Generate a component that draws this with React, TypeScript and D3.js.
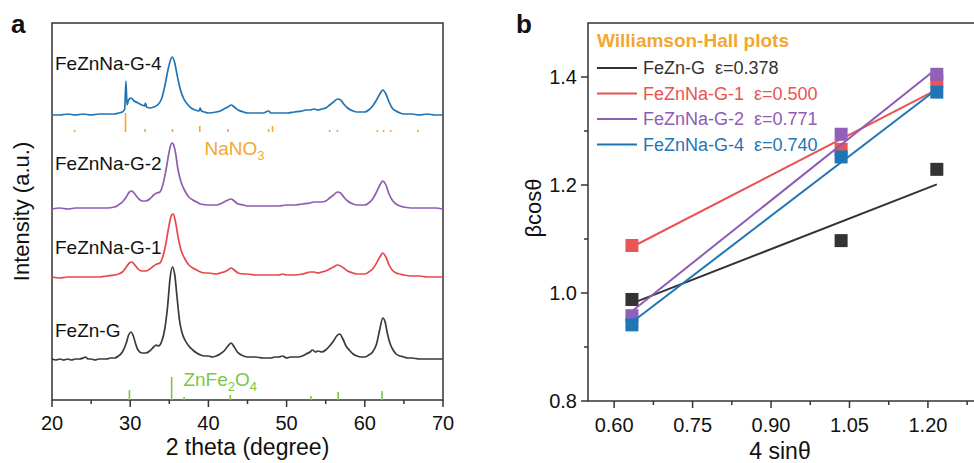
import React, { useEffect } from "react";
import * as d3 from "d3";

// ---------- XRD patterns (2θ in degrees, intensity above each trace's baseline) ----------
const fezngXrd: [number, number][] = [
  [20, 1], [20.5, 0], [21, 1], [21.5, 0], [22, 1], [22.5, 0], [23, 1], [23.5, 1], [24, 2], [24.3, 3], [24.6, 1],
  [25, 1], [25.5, 0], [26, 1], [26.5, 1], [27, 1], [27.5, 2], [28, 2], [28.5, 4], [29, 8], [29.5, 17], [29.8, 25],
  [30.1, 28], [30.4, 24], [30.7, 16], [31, 10], [31.5, 7], [32, 7], [32.5, 9], [33, 13], [33.3, 15], [33.6, 14],
  [34, 18], [34.4, 30], [34.8, 55], [35.1, 82], [35.4, 93], [35.7, 85], [36, 62], [36.3, 40], [36.6, 28], [37, 20],
  [37.5, 14], [38, 10], [38.5, 7], [39, 5], [39.5, 4], [40, 4], [40.5, 3], [41, 4], [41.5, 6], [42, 9], [42.5, 14],
  [42.9, 17], [43.3, 13], [43.7, 8], [44, 6], [44.5, 4], [45, 3], [46, 3], [47, 2], [48, 2], [48.5, 3], [49, 3],
  [49.5, 4], [50, 2], [50.5, 3], [51, 3], [51.5, 3], [52, 4], [52.5, 6], [53, 8], [53.3, 10], [53.7, 8], [54, 9],
  [54.5, 8], [55, 10], [55.5, 14], [56, 19], [56.4, 24], [56.8, 26], [57.2, 21], [57.6, 14], [58, 10], [58.5, 6],
  [59, 4], [59.5, 3], [60, 3], [60.5, 5], [61, 8], [61.5, 16], [61.9, 30], [62.3, 42], [62.6, 38], [62.9, 26],
  [63.3, 15], [63.7, 9], [64, 6], [64.5, 4], [65, 3], [65.5, 2], [66, 2], [67, 1], [68, 1], [69, 1], [70, 1],
];

const na1Xrd: [number, number][] = [
  [20, 1], [21, 0], [22, 1], [23, 1], [24, 1], [25, 1], [26, 1], [27, 2], [28, 3], [28.5, 4], [29, 6], [29.5, 11],
  [29.9, 15], [30.2, 16], [30.6, 13], [31, 9], [31.5, 7], [32, 7], [32.5, 9], [33, 12], [33.4, 14], [33.8, 15],
  [34.2, 22], [34.6, 36], [35, 54], [35.3, 63], [35.5, 64], [35.8, 56], [36.1, 42], [36.5, 28], [37, 19], [37.5, 13],
  [38, 10], [38.5, 8], [39, 6], [39.5, 5], [40, 5], [41, 4], [41.5, 5], [42, 6], [42.5, 8], [42.9, 10], [43.3, 8],
  [43.8, 5], [44.5, 4], [45, 4], [46, 3], [47, 3], [48, 3], [49, 3], [49.5, 4], [50, 3], [51, 3], [52, 4], [52.5, 5],
  [53, 6], [53.5, 6], [54, 5], [54.5, 6], [55, 7], [55.5, 9], [56, 11], [56.5, 13], [56.9, 12], [57.3, 10],
  [57.8, 7], [58.5, 5], [59, 4], [60, 4], [60.5, 6], [61, 9], [61.5, 15], [62, 22], [62.3, 25], [62.7, 21],
  [63.1, 13], [63.5, 8], [64, 5], [64.5, 4], [65, 3], [66, 2], [67, 2], [68, 1], [69, 1], [70, 1],
];

const na2Xrd: [number, number][] = [
  [20, 0], [21, 1], [22, 0], [23, 1], [24, 1], [25, 1], [26, 1], [27, 1], [28, 2], [28.5, 4], [29, 7], [29.5, 12],
  [29.9, 17], [30.2, 18], [30.6, 15], [31, 11], [31.5, 8], [32, 8], [32.5, 10], [33, 14], [33.4, 16], [33.8, 17],
  [34.2, 25], [34.6, 40], [35, 58], [35.3, 66], [35.5, 65], [35.8, 56], [36.1, 40], [36.5, 27], [37, 18], [37.5, 12],
  [38, 9], [38.5, 7], [39, 5], [40, 4], [41, 4], [41.5, 5], [42, 7], [42.5, 9], [42.9, 10], [43.3, 8], [43.8, 5],
  [44.5, 4], [45, 3], [46, 3], [47, 3], [48, 3], [49, 3], [50, 4], [51, 4], [52, 5], [53, 6], [53.5, 7], [54, 7],
  [54.5, 7], [55, 8], [55.5, 11], [56, 14], [56.5, 17], [56.9, 16], [57.3, 12], [57.8, 8], [58.5, 5], [59, 4],
  [60, 4], [60.5, 6], [61, 10], [61.5, 17], [62, 25], [62.3, 28], [62.7, 24], [63.1, 15], [63.5, 9], [64, 5],
  [64.5, 3], [65, 2], [66, 1], [67, 1], [68, 1], [69, 1], [70, 0],
];

const na4Xrd: [number, number][] = [
  [20, 0], [21, 0], [22, 1], [23, 0], [24, 1], [25, 0], [26, 1], [27, 1], [28, 1], [28.5, 2], [29, 3], [29.3, 6],
  [29.45, 34], [29.6, 10], [29.8, 15], [30.1, 17], [30.5, 14], [31, 12], [31.5, 10], [31.85, 9], [31.95, 12],
  [32.1, 8], [32.5, 7], [33, 8], [33.5, 10], [34, 16], [34.4, 28], [34.8, 44], [35.2, 56], [35.4, 58], [35.7, 52],
  [36, 40], [36.4, 26], [36.8, 17], [37.3, 11], [37.8, 7], [38.3, 5], [38.8, 4], [38.95, 7], [39.1, 4], [39.5, 3],
  [40, 2], [41, 3], [41.5, 4], [42, 6], [42.5, 8], [42.9, 10], [43.3, 8], [43.8, 5], [44.5, 3], [45, 2], [46, 2],
  [47, 2], [47.7, 4], [48, 2], [49, 2], [50, 2], [51, 3], [52, 4], [52.5, 5], [53, 5], [53.5, 6], [54, 5], [54.5, 6],
  [55, 7], [55.5, 10], [56, 13], [56.5, 16], [56.9, 15], [57.3, 11], [57.8, 7], [58.5, 4], [59, 3], [60, 3],
  [60.5, 5], [61, 9], [61.5, 15], [62, 22], [62.3, 25], [62.7, 21], [63.1, 13], [63.5, 7], [64, 4], [64.5, 2],
  [65, 1], [66, 1], [67, 0], [68, 1], [69, 0], [70, 0],
];

// stacking offsets of the four traces
const traceNames = ["FeZn-G", "FeZnNa-G-1", "FeZnNa-G-2", "FeZnNa-G-4"];
const traceOffsets = [40, 122, 191, 285];
const traceColors = ["#3a3a3a", "#e8484c", "#8e5cb5", "#2074b4"];
const traceLabelY = [63, 146, 230, 330];

// reference patterns: [2θ, relative line height]
const znFe2O4Ref: [number, number][] = [
  [29.9, 10], [35.3, 23], [36.9, 3], [42.8, 5], [53.1, 4], [56.6, 8], [62.2, 9],
];
const nano3Ref: [number, number][] = [
  [22.9, 2], [29.4, 19], [31.9, 3], [35.4, 3], [38.9, 6], [42.5, 3], [47.7, 3], [48.2, 6],
  [55.5, 2], [56.5, 2], [61.6, 2], [62.4, 2], [63.3, 2], [66.8, 2],
];
const nano3Base = 268;

const xTicksA = [20, 30, 40, 50, 60, 70];

// ---------- Williamson-Hall data ----------
const fourSinTheta = [0.634, 1.034, 1.217];
const whNames = ["FeZn-G", "FeZnNa-G-1", "FeZnNa-G-2", "FeZnNa-G-4"];
const whBetaCos = [
  [0.988, 1.097, 1.229],
  [1.088, 1.266, 1.393],
  [0.958, 1.294, 1.405],
  [0.941, 1.252, 1.372],
];
const whStrain = [0.378, 0.5, 0.771, 0.74];
const whLineColors = ["#333333", "#ea5254", "#8e5cb5", "#1f76b5"];
const whMarkColors = ["#333333", "#ea5558", "#9161b9", "#1f76b5"];
const xTicksB = [0.6, 0.75, 0.9, 1.05, 1.2];
const yTicksB = [0.8, 1.0, 1.2, 1.4];

const FONT = "'Liberation Sans', Arial, Helvetica, sans-serif";

export default function App() {
  useEffect(() => {
    document.body.style.margin = "0";
  }, []);

  // panel a scales
  const xA = d3.scaleLinear().domain([20, 70]).range([52, 443]);
  const yA = d3.scaleLinear().domain([0, 377]).range([400, 23]);
  const xrdSets = [fezngXrd, na1Xrd, na2Xrd, na4Xrd];

  // panel b scales
  const xB = d3.scaleLinear().domain([0.55, 1.29]).range([588, 975]);
  const yB = d3.scaleLinear().domain([0.8, 1.5]).range([401, 23]);

  const minorA = d3.range(25, 70, 10);
  const minorXB = d3.range(0.675, 1.29, 0.15);
  const minorYB = [0.9, 1.1, 1.3];
  const mean = (a: number[]) => d3.mean(a) as number;

  return (
    <svg width={974} height={463} style={{ display: "block", fontFamily: FONT }}>
      <rect width={974} height={463} fill="#ffffff" />

      {/* ===== panel a ===== */}
      <text x={11} y={33} fontSize={26} fontWeight="bold" fill="#111">a</text>
      <rect x={xA(20)} y={yA(377)} width={xA(70) - xA(20)} height={yA(0) - yA(377)}
        fill="none" stroke="#333" strokeWidth={1.5} />
      {xTicksA.map((t) => (
        <g key={"xa" + t}>
          <line x1={xA(t)} x2={xA(t)} y1={yA(0)} y2={yA(0) + 7} stroke="#333" strokeWidth={1.5} />
          <text x={xA(t)} y={430} fontSize={20} textAnchor="middle" fill="#111">{t}</text>
        </g>
      ))}
      {minorA.map((t) => (
        <line key={"xam" + t} x1={xA(t)} x2={xA(t)} y1={yA(0)} y2={yA(0) + 4} stroke="#333" strokeWidth={1.5} />
      ))}
      <text x={xA(45)} y={455} fontSize={23} textAnchor="middle" fill="#111">2 theta (degree)</text>
      <text transform={`translate(29,${(yA(0) + yA(377)) / 2}) rotate(-90)`} fontSize={22}
        textAnchor="middle" fill="#111">Intensity (a.u.)</text>

      {/* ZnFe2O4 reference lines */}
      {znFe2O4Ref.map(([p, h]) => (
        <line key={"zf" + p} x1={xA(p)} x2={xA(p)} y1={yA(0)} y2={yA(h)} stroke="#7cc644" strokeWidth={1.6} />
      ))}
      <text x={xA(36.8)} y={386} fontSize={19} fill="#7cc644">
        ZnFe<tspan fontSize={13} dy={5}>2</tspan><tspan dy={-5}>O</tspan><tspan fontSize={13} dy={5}>4</tspan>
      </text>

      {/* NaNO3 reference lines */}
      {nano3Ref.map(([p, h]) => (
        <line key={"nn" + p} x1={xA(p)} x2={xA(p)} y1={yA(nano3Base)} y2={yA(nano3Base + h)}
          stroke="#f3a731" strokeWidth={1.6} />
      ))}
      <text x={xA(39.5)} y={155} fontSize={19} fill="#f3a731">
        NaNO<tspan fontSize={13} dy={5}>3</tspan>
      </text>

      {/* XRD traces */}
      {xrdSets.map((set, i) => {
        const line = d3
          .line<[number, number]>()
          .x((d) => xA(d[0]))
          .y((d) => yA(d[1] + traceOffsets[i]))
          .curve(d3.curveMonotoneX);
        return (
          <path key={"xrd" + i} d={line(set) || ""} fill="none" stroke={traceColors[i]}
            strokeWidth={1.7} strokeLinejoin="round" />
        );
      })}
      {traceNames.map((n, i) => (
        <text key={"tl" + n} x={55} y={yA(traceLabelY[i])} fontSize={19} fill="#111">{n}</text>
      ))}

      {/* ===== panel b ===== */}
      <text x={516} y={33} fontSize={26} fontWeight="bold" fill="#111">b</text>
      <rect x={xB(0.55)} y={yB(1.5)} width={xB(1.29) - xB(0.55) + 2} height={yB(0.8) - yB(1.5)}
        fill="none" stroke="#333" strokeWidth={1.5} />
      {xTicksB.map((t) => (
        <g key={"xb" + t}>
          <line x1={xB(t)} x2={xB(t)} y1={yB(0.8)} y2={yB(0.8) + 7} stroke="#333" strokeWidth={1.5} />
          <text x={xB(t)} y={432} fontSize={20} textAnchor="middle" fill="#111">{t.toFixed(2)}</text>
        </g>
      ))}
      {minorXB.map((t) => (
        <line key={"xbm" + t} x1={xB(t)} x2={xB(t)} y1={yB(0.8)} y2={yB(0.8) + 4} stroke="#333" strokeWidth={1.5} />
      ))}
      {yTicksB.map((t) => (
        <g key={"yb" + t}>
          <line x1={xB(0.55) - 7} x2={xB(0.55)} y1={yB(t)} y2={yB(t)} stroke="#333" strokeWidth={1.5} />
          <text x={xB(0.55) - 11} y={yB(t) + 7} fontSize={20} textAnchor="end" fill="#111">{t.toFixed(1)}</text>
        </g>
      ))}
      {minorYB.map((t) => (
        <line key={"ybm" + t} x1={xB(0.55) - 4} x2={xB(0.55)} y1={yB(t)} y2={yB(t)} stroke="#333" strokeWidth={1.5} />
      ))}
      <text x={780} y={459} fontSize={23} textAnchor="middle" fill="#111">4 sinθ</text>
      <text transform={`translate(541,208) rotate(-90)`} fontSize={22} textAnchor="middle" fill="#111">βcosθ</text>

      {/* fitted lines (slope = strain) and measured points */}
      {whBetaCos.map((ys, i) => {
        const slope = whStrain[i];
        const icpt = mean(ys) - slope * mean(fourSinTheta);
        const x0 = fourSinTheta[0];
        const x1 = fourSinTheta[fourSinTheta.length - 1];
        return (
          <g key={"wh" + i}>
            <line x1={xB(x0)} y1={yB(slope * x0 + icpt)} x2={xB(x1)} y2={yB(slope * x1 + icpt)}
              stroke={whLineColors[i]} strokeWidth={2} />
            {ys.map((y, j) => (
              <rect key={j} x={xB(fourSinTheta[j]) - 6.5} y={yB(y) - 6.5} width={13} height={13}
                fill={whMarkColors[i]} />
            ))}
          </g>
        );
      })}

      {/* legend */}
      <text x={597} y={47} fontSize={19} fontWeight="bold" fill="#f3a731">Williamson-Hall plots</text>
      {whNames.map((n, i) => {
        const y = 68 + i * 25.5;
        return (
          <g key={"lg" + n}>
            <line x1={597} x2={637} y1={y} y2={y} stroke={whLineColors[i]} strokeWidth={2} />
            <text x={643} y={y + 6} fontSize={18} fill={whLineColors[i]} xmlSpace="preserve">
              {n + "  ε=" + whStrain[i].toFixed(3)}
            </text>
          </g>
        );
      })}
    </svg>
  );
}
